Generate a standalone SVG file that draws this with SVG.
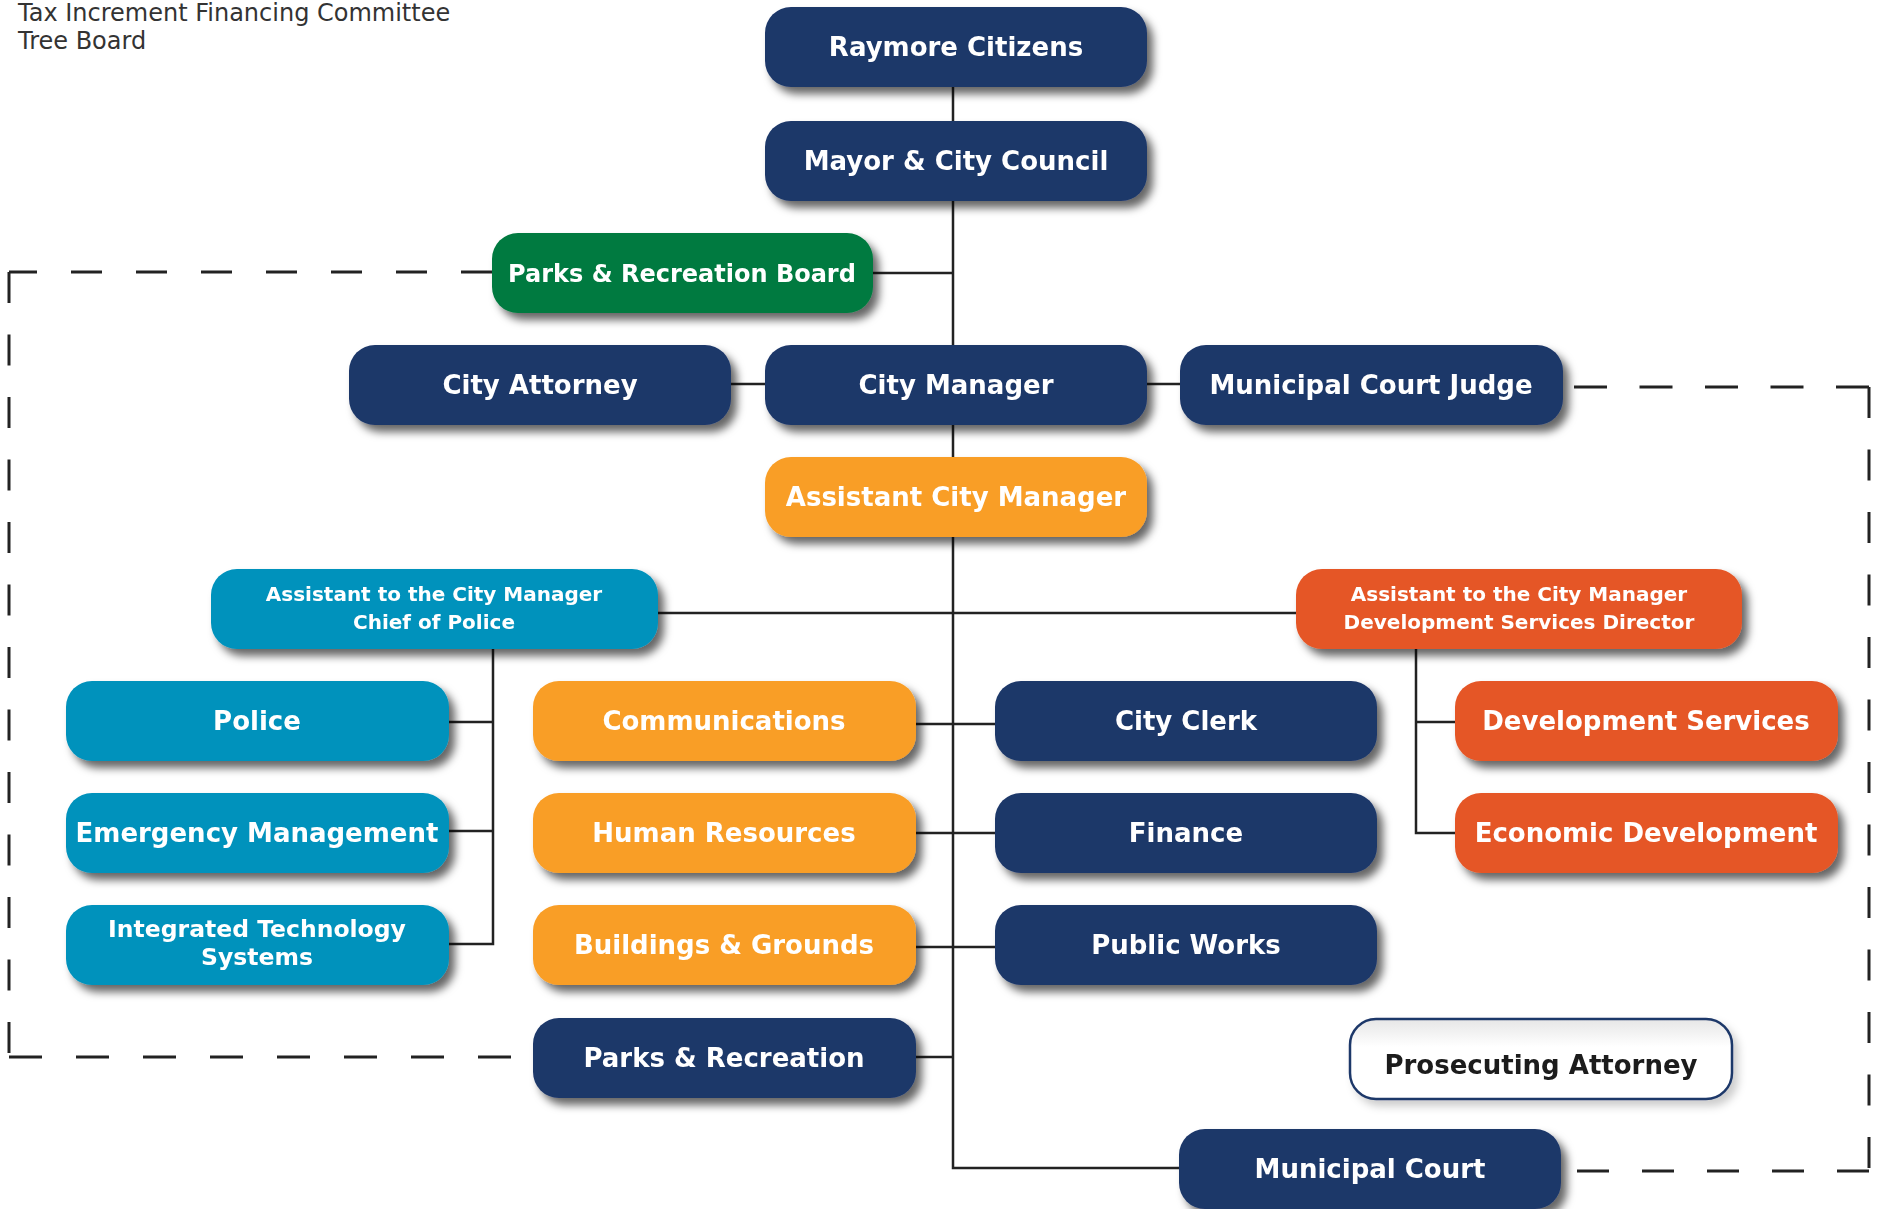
<svg xmlns="http://www.w3.org/2000/svg" width="1881" height="1209" viewBox="0 0 1881 1209">
<defs>
<filter id="sh" x="-10%" y="-20%" width="125%" height="150%">
<feGaussianBlur in="SourceAlpha" stdDeviation="4.5"/>
<feOffset dx="6" dy="7" result="b"/>
<feFlood flood-color="#000" flood-opacity="0.6"/>
<feComposite in2="b" operator="in"/>
<feMerge><feMergeNode/><feMergeNode in="SourceGraphic"/></feMerge>
</filter>
<filter id="shl" x="-10%" y="-20%" width="125%" height="150%">
<feGaussianBlur in="SourceAlpha" stdDeviation="4"/>
<feOffset dx="5" dy="6" result="b"/>
<feFlood flood-color="#000" flood-opacity="0.2"/>
<feComposite in2="b" operator="in"/>
<feMerge><feMergeNode/><feMergeNode in="SourceGraphic"/></feMerge>
</filter>
<linearGradient id="pg" x1="0" y1="0" x2="0" y2="1">
<stop offset="0" stop-color="#e6e6e6"/>
<stop offset="0.35" stop-color="#ffffff"/>
<stop offset="1" stop-color="#ffffff"/>
</linearGradient>
</defs>
<style>
.b{filter:url(#sh)}
.navy{fill:#1d3769}
.green{fill:#027a3f}
.teal{fill:#0392bc}
.orange{fill:#f99e27}
.red{fill:#e55626}
.t{font-family:"DejaVu Sans",Verdana,sans-serif;font-weight:bold;font-size:26px;fill:#fff;text-anchor:middle}
.t2{font-family:"DejaVu Sans",Verdana,sans-serif;font-weight:bold;font-size:20px;fill:#fff;text-anchor:middle}
.t3{font-family:"DejaVu Sans",Verdana,sans-serif;font-weight:bold;font-size:23.5px;fill:#fff;text-anchor:middle}
.note{font-family:"DejaVu Sans",Verdana,sans-serif;font-size:24px;fill:#333}
.c{fill:none;stroke:#222;stroke-width:2.5}
.d{fill:none;stroke:#222;stroke-width:3}
</style>
<rect width="1881" height="1209" fill="#fff"/>
<g id="notes">
<text class="note" x="18" y="21">Tax Increment Financing Committee</text>
<text class="note" x="18" y="49">Tree Board</text>
</g>
<g id="connectors">
<path class="c" d="M953 87 V1168 H1179"/>
<path class="c" d="M873 273 H953"/>
<path class="c" d="M731 384 H765"/>
<path class="c" d="M1147 384 H1180"/>
<path class="c" d="M658 613 H1296"/>
<path class="c" d="M493 649 V944 H449"/>
<path class="c" d="M449 722 H493"/>
<path class="c" d="M449 831 H493"/>
<path class="c" d="M916 724 H995"/>
<path class="c" d="M916 833 H995"/>
<path class="c" d="M916 947 H995"/>
<path class="c" d="M916 1057 H953"/>
<path class="c" d="M1416 649 V833 H1455"/>
<path class="c" d="M1416 722 H1455"/>
<line class="d" x1="492" y1="272" x2="9" y2="272" stroke-dasharray="31 34"/>
<line class="d" x1="9" y1="272" x2="9" y2="1057" stroke-dasharray="31 31.5"/>
<line class="d" x1="9" y1="1057" x2="513" y2="1057" stroke-dasharray="33 34"/>
<line class="d" x1="1869" y1="387" x2="1563" y2="387" stroke-dasharray="33 32.5"/>
<line class="d" x1="1869" y1="387" x2="1869" y2="1171" stroke-dasharray="31 31.5"/>
<line class="d" x1="1869" y1="1171" x2="1561" y2="1171" stroke-dasharray="32 33"/>
</g>
<g id="n-raymore" class="b"><rect class="navy" x="765" y="7" width="382" height="80" rx="26"/><text class="t" x="956" y="56">Raymore Citizens</text></g>
<g id="n-mayor" class="b"><rect class="navy" x="765" y="121" width="382" height="80" rx="26"/><text class="t" x="956" y="170">Mayor &amp; City Council</text></g>
<g id="n-parksboard" class="b"><rect class="green" x="492" y="233" width="381" height="80" rx="26"/><text class="t" x="682" y="281.5" style="font-size:24px">Parks &amp; Recreation Board</text></g>
<g id="n-attorney" class="b"><rect class="navy" x="349" y="345" width="382" height="80" rx="26"/><text class="t" x="540" y="394">City Attorney</text></g>
<g id="n-manager" class="b"><rect class="navy" x="765" y="345" width="382" height="80" rx="26"/><text class="t" x="956" y="394">City Manager</text></g>
<g id="n-judge" class="b"><rect class="navy" x="1180" y="345" width="383" height="80" rx="26"/><text class="t" x="1371" y="394">Municipal Court Judge</text></g>
<g id="n-acm" class="b"><rect class="orange" x="765" y="457" width="382" height="80" rx="26"/><text class="t" x="956" y="506">Assistant City Manager</text></g>
<g id="n-chief" class="b"><rect class="teal" x="211" y="569" width="447" height="80" rx="26"/><text class="t2" x="434" y="601">Assistant to the City Manager</text><text class="t2" x="434" y="629">Chief of Police</text></g>
<g id="n-devdir" class="b"><rect class="red" x="1296" y="569" width="446" height="80" rx="26"/><text class="t2" x="1519" y="601">Assistant to the City Manager</text><text class="t2" x="1519" y="629">Development Services Director</text></g>
<g id="n-police" class="b"><rect class="teal" x="66" y="681" width="383" height="80" rx="26"/><text class="t" x="257" y="730">Police</text></g>
<g id="n-comm" class="b"><rect class="orange" x="533" y="681" width="383" height="80" rx="26"/><text class="t" x="724" y="730">Communications</text></g>
<g id="n-clerk" class="b"><rect class="navy" x="995" y="681" width="382" height="80" rx="26"/><text class="t" x="1186" y="730">City Clerk</text></g>
<g id="n-devsvc" class="b"><rect class="red" x="1455" y="681" width="383" height="80" rx="26"/><text class="t" x="1646" y="730">Development Services</text></g>
<g id="n-emerg" class="b"><rect class="teal" x="66" y="793" width="383" height="80" rx="26"/><text class="t" x="257" y="842">Emergency Management</text></g>
<g id="n-hr" class="b"><rect class="orange" x="533" y="793" width="383" height="80" rx="26"/><text class="t" x="724" y="842">Human Resources</text></g>
<g id="n-finance" class="b"><rect class="navy" x="995" y="793" width="382" height="80" rx="26"/><text class="t" x="1186" y="842">Finance</text></g>
<g id="n-econ" class="b"><rect class="red" x="1455" y="793" width="383" height="80" rx="26"/><text class="t" x="1646" y="842">Economic Development</text></g>
<g id="n-its" class="b"><rect class="teal" x="66" y="905" width="383" height="80" rx="26"/><text class="t3" x="257" y="937">Integrated Technology</text><text class="t3" x="257" y="965">Systems</text></g>
<g id="n-bg" class="b"><rect class="orange" x="533" y="905" width="383" height="80" rx="26"/><text class="t" x="724" y="954">Buildings &amp; Grounds</text></g>
<g id="n-pw" class="b"><rect class="navy" x="995" y="905" width="382" height="80" rx="26"/><text class="t" x="1186" y="954">Public Works</text></g>
<g id="n-parks" class="b"><rect class="navy" x="533" y="1018" width="383" height="80" rx="26"/><text class="t" x="724" y="1067">Parks &amp; Recreation</text></g>
<g id="n-prosecutor" style="filter:url(#shl)"><rect x="1350" y="1019" width="382" height="80" rx="26" fill="url(#pg)" stroke="#1d3769" stroke-width="2.5"/><text class="t" x="1541" y="1073.5" style="fill:#1a1a1a">Prosecuting Attorney</text></g>
<g id="n-court" class="b"><rect class="navy" x="1179" y="1129" width="382" height="80" rx="26"/><text class="t" x="1370" y="1178">Municipal Court</text></g>
</svg>
